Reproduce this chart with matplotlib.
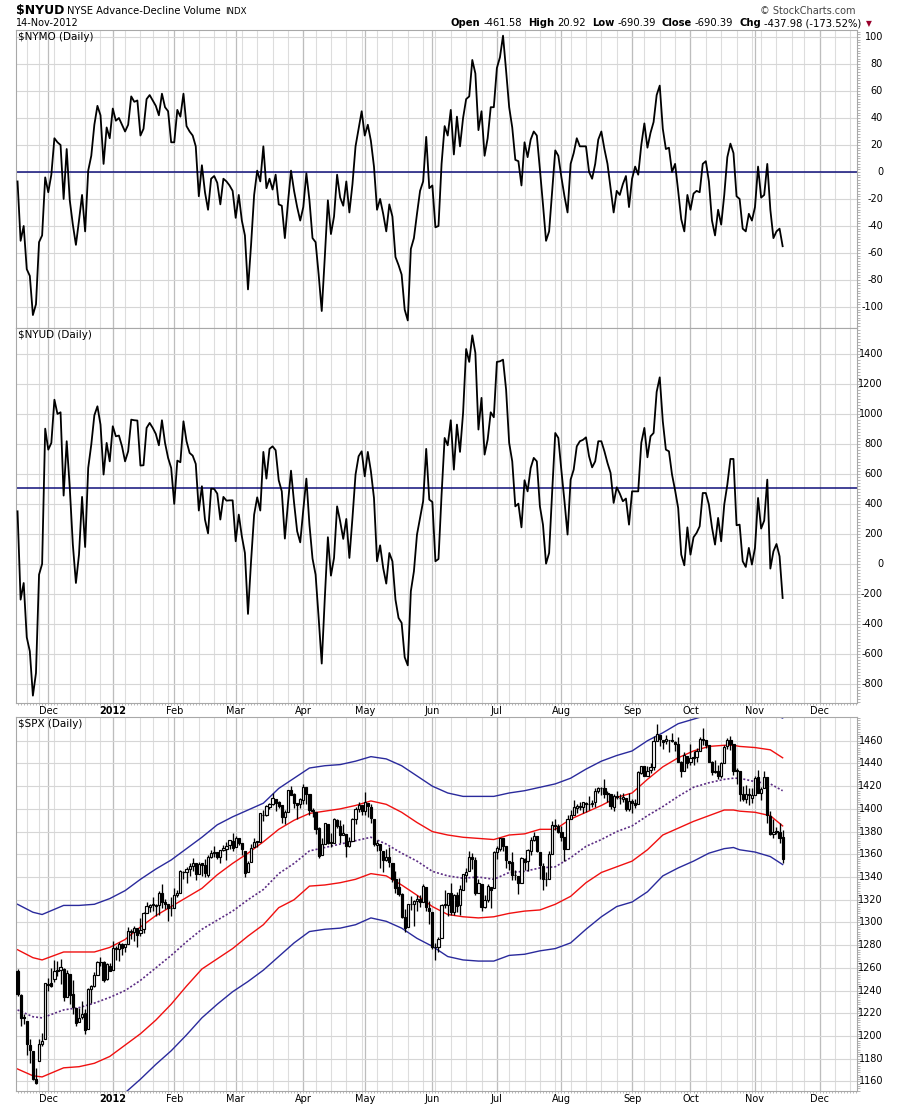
import numpy as np
import pandas as pd
import matplotlib
matplotlib.use("Agg")
import matplotlib.pyplot as plt
import matplotlib.transforms as mtransforms
from matplotlib.ticker import MultipleLocator

W, H = 900, 1108

# NYSE trading calendar of the chart (x axis is trading-day index)
holidays = ["2011-11-24", "2011-12-26", "2012-01-02", "2012-01-16", "2012-02-20",
            "2012-04-06", "2012-05-28", "2012-07-04", "2012-09-03", "2012-10-29",
            "2012-10-30", "2012-11-22", "2012-12-25"]
days = pd.bdate_range("2011-11-16", "2012-12-31", freq="C", holidays=holidays)

# $NYMO daily, 16-Nov-2011 .. 14-Nov-2012
nymo = [
    -7, -51, -40, -72, -77, -106, -98, -52, -47, -4,
    -15, -2, 25, 22, 20, -20, 17, -21, -39, -54,
    -36, -17, -44, 1, 12, 35, 49, 42, 6, 33,
    25, 47, 38, 40, 35, 30, 35, 56, 52, 53,
    27, 32, 54, 57, 53, 49, 42, 58, 48, 45,
    22, 22, 46, 41, 58, 34, 30, 27, 19, -18,
    5, -15, -28, -5, -3, -8, -24, -5, -7, -10,
    -14, -34, -17, -36, -47, -87, -54, -17, 1, -7,
    19, -12, -5, -13, -2, -24, -25, -49, -23, 1,
    -14, -26, -36, -26, -1, -21, -49, -52, -76, -103,
    -63, -21, -46, -33, -2, -19, -25, -7, -30, -9,
    19, 32, 45, 27, 35, 23, 4, -28, -20, -31,
    -44, -24, -33, -63, -69, -76, -102, -110, -57, -49,
    -31, -14, -7, 26, -12, -10, -41, -40, 6, 34,
    27, 46, 13, 41, 19, 40, 54, 56, 83, 73,
    31, 45, 12, 25, 48, 48, 77, 85, 101, 75,
    48, 33, 9, 8, -10, 22, 11, 24, 30, 27,
    2, -24, -51, -44, -14, 16, 12, -4, -18, -30,
    6, 14, 25, 19, 19, 19, 0, -5, 6, 24,
    30, 17, 6, -12, -30, -14, -17, -9, -3, -26,
    -5, 4, -2, 20, 36, 18, 29, 37, 57, 64,
    32, 17, 18, 0, 6, -14, -35, -44, -17, -28,
    -16, -14, -15, 6, 8, -7, -36, -47, -28, -39,
    -17, 11, 21, 14, -18, -20, -42, -44, -31, -36,
    -26, 4, -19, -17, 6, -28, -49, -44, -42, -55,
]

# $NYUD panel line
nyud = [
    351, -238, -127, -489, -582, -878, -727, -71, 0, 902,
    762, 807, 1095, 1000, 1011, 456, 818, 507, 129, -127,
    62, 447, 113, 640, 796, 991, 1051, 929, 596, 807,
    684, 918, 851, 856, 784, 684, 751, 962, 958, 956,
    656, 658, 907, 940, 907, 867, 791, 958, 807, 707,
    640, 400, 689, 678, 951, 818, 740, 722, 667, 356,
    518, 296, 204, 502, 500, 469, 296, 447, 422, 424,
    424, 151, 329, 184, 73, -333, 18, 329, 444, 356,
    747, 569, 767, 784, 758, 558, 484, 169, 402, 622,
    407, 218, 144, 362, 569, 262, 36, -71, -360, -664,
    -227, 178, -78, 40, 384, 284, 167, 300, 40, 307,
    596, 718, 751, 584, 747, 618, 440, 18, 124, -27,
    -131, 73, 18, -238, -360, -393, -622, -676, -182, -49,
    196, 307, 418, 767, 429, 413, 18, 33, 462, 840,
    791, 958, 629, 929, 747, 1007, 1433, 1347, 1524, 1407,
    896, 1107, 729, 829, 1011, 978, 1347, 1351, 1362, 1162,
    807, 684, 384, 402, 244, 558, 484, 640, 707, 684,
    384, 262, 2, 73, 484, 873, 840, 622, 418, 196,
    562, 629, 784, 818, 827, 844, 718, 644, 684, 818,
    818, 751, 673, 607, 407, 511, 469, 418, 436, 262,
    484, 484, 484, 807, 907, 711, 851, 873, 1147, 1244,
    951, 762, 751, 596, 491, 373, 62, -9, 244, 62,
    178, 207, 251, 473, 473, 396, 244, 129, 307, 151,
    396, 529, 700, 700, 258, 262, 18, -20, 107, -4,
    107, 440, 236, 289, 562, -31, 84, 133, 51, -227,
]
nyud_signal = 505

# $SPX daily candles
spx_open = [
    1257, 1236, 1217, 1213, 1192, 1187, 1162, 1178, 1193, 1197,
    1246, 1247, 1250, 1257, 1258, 1259, 1234, 1255, 1237, 1225, 1212, 1217, 1220, 1206, 1241, 1244, 1254, 1265, 1265, 1250, 1262,
    1258, 1277, 1277, 1281, 1278, 1281, 1292, 1292, 1295, 1291, 1294, 1308, 1314, 1315, 1315, 1315, 1326, 1318, 1316, 1313,
    1313, 1324, 1326, 1344, 1344, 1347, 1350, 1352, 1343, 1352, 1351, 1342, 1358, 1361, 1362, 1358, 1364, 1365, 1368, 1372,
    1366, 1374, 1370, 1363, 1344, 1353, 1366, 1371, 1371, 1395, 1395, 1402, 1404, 1409, 1406, 1403, 1393, 1397, 1417, 1413, 1405, 1404,
    1408, 1419, 1413, 1399, 1397, 1383, 1359, 1369, 1387, 1371, 1370, 1390, 1385, 1377, 1378, 1367, 1372, 1391, 1400, 1403,
    1398, 1405, 1402, 1391, 1368, 1369, 1363, 1355, 1358, 1352, 1338, 1331, 1325, 1305, 1296, 1316, 1316, 1319, 1321, 1318, 1331, 1313,
    1309, 1278, 1278, 1286, 1316, 1315, 1326, 1309, 1324, 1315, 1329, 1342, 1345, 1358, 1355, 1326, 1334, 1314, 1320, 1331, 1330,
    1362, 1365, 1374, 1367, 1354, 1353, 1342, 1341, 1335, 1356, 1354, 1363, 1373, 1376, 1362, 1350, 1338, 1338, 1360, 1386, 1385,
    1380, 1375, 1365, 1391, 1395, 1401, 1402, 1402, 1405, 1404, 1404, 1406, 1416, 1418, 1418, 1413, 1413, 1402, 1411, 1410, 1409, 1410, 1400,
    1407, 1405, 1404, 1432, 1438, 1429, 1434, 1437, 1460, 1465, 1461, 1460, 1461, 1461, 1459, 1457, 1441, 1433, 1447,
    1441, 1445, 1446, 1451, 1461, 1461, 1456, 1441, 1433, 1433, 1429, 1440, 1455, 1461, 1457, 1433, 1433, 1413, 1409, 1413, 1410,
    1412, 1428, 1414, 1418, 1428, 1394, 1378, 1380, 1380, 1375,
]
spx_high = [
    1259, 1237, 1219, 1213, 1197, 1187, 1172, 1197, 1203, 1247,
    1251, 1260, 1267, 1266, 1268, 1260, 1258, 1255, 1249, 1225, 1225, 1231, 1224, 1242, 1245, 1256, 1266, 1270, 1266, 1264, 1264,
    1284, 1279, 1283, 1282, 1281, 1296, 1294, 1297, 1295, 1304, 1309, 1318, 1316, 1322, 1316, 1328, 1334, 1321, 1316, 1322,
    1330, 1329, 1346, 1345, 1349, 1352, 1357, 1352, 1353, 1352, 1356, 1359, 1364, 1367, 1362, 1364, 1368, 1371, 1373, 1379,
    1376, 1374, 1370, 1363, 1354, 1369, 1374, 1372, 1396, 1399, 1403, 1405, 1414, 1409, 1407, 1403, 1399, 1417, 1420, 1414, 1405, 1410,
    1422, 1419, 1413, 1401, 1397, 1384, 1374, 1388, 1387, 1379, 1392, 1391, 1390, 1387, 1378, 1375, 1392, 1402, 1406, 1403,
    1415, 1405, 1404, 1391, 1373, 1369, 1363, 1365, 1366, 1352, 1345, 1339, 1326, 1312, 1316, 1323, 1320, 1324, 1324, 1334, 1331, 1319,
    1309, 1282, 1287, 1316, 1329, 1326, 1335, 1325, 1327, 1333, 1343, 1348, 1363, 1361, 1358, 1338, 1334, 1324, 1334, 1331, 1363,
    1367, 1374, 1374, 1367, 1354, 1362, 1346, 1341, 1358, 1357, 1365, 1375, 1380, 1376, 1362, 1352, 1344, 1363, 1389, 1391, 1387,
    1385, 1375, 1395, 1399, 1408, 1404, 1406, 1406, 1406, 1411, 1408, 1418, 1419, 1419, 1426, 1416, 1413, 1413, 1416, 1413, 1414, 1410, 1414,
    1409, 1409, 1433, 1438, 1438, 1438, 1440, 1464, 1475, 1465, 1461, 1465, 1461, 1467, 1460, 1463, 1442, 1450, 1447,
    1457, 1451, 1454, 1463, 1471, 1461, 1456, 1442, 1443, 1439, 1441, 1456, 1462, 1464, 1457, 1436, 1433, 1420, 1421, 1418, 1418,
    1429, 1434, 1419, 1433, 1428, 1398, 1391, 1384, 1388, 1381,
]
spx_low = [
    1235, 1209, 1211, 1183, 1176, 1161, 1158, 1178, 1191, 1197,
    1240, 1243, 1248, 1253, 1246, 1231, 1234, 1228, 1219, 1209, 1212, 1215, 1202, 1206, 1229, 1243, 1254, 1262, 1248, 1249, 1257,
    1258, 1267, 1266, 1271, 1274, 1281, 1285, 1284, 1278, 1288, 1291, 1308, 1309, 1310, 1306, 1307, 1313, 1312, 1301, 1306,
    1313, 1322, 1326, 1338, 1335, 1341, 1345, 1337, 1343, 1341, 1340, 1340, 1357, 1358, 1356, 1352, 1363, 1355, 1365, 1363,
    1366, 1368, 1359, 1340, 1344, 1353, 1366, 1366, 1371, 1389, 1394, 1400, 1403, 1398, 1401, 1388, 1387, 1397, 1412, 1401, 1391, 1401,
    1404, 1404, 1395, 1393, 1378, 1357, 1359, 1369, 1369, 1366, 1370, 1383, 1370, 1377, 1358, 1366, 1372, 1387, 1397, 1395,
    1395, 1393, 1388, 1367, 1363, 1348, 1344, 1354, 1349, 1336, 1326, 1323, 1304, 1292, 1296, 1311, 1297, 1310, 1314, 1318, 1310, 1299,
    1277, 1267, 1274, 1286, 1313, 1306, 1307, 1307, 1309, 1307, 1329, 1336, 1345, 1347, 1324, 1326, 1310, 1313, 1318, 1313, 1330,
    1356, 1363, 1363, 1348, 1346, 1337, 1337, 1325, 1335, 1346, 1345, 1359, 1372, 1362, 1338, 1329, 1332, 1338, 1360, 1381, 1379,
    1372, 1354, 1365, 1391, 1395, 1396, 1399, 1396, 1397, 1399, 1402, 1402, 1414, 1412, 1410, 1406, 1400, 1398, 1409, 1404, 1406, 1398, 1398,
    1396, 1401, 1404, 1431, 1429, 1429, 1432, 1434, 1460, 1455, 1453, 1457, 1450, 1459, 1451, 1441, 1428, 1433, 1436,
    1439, 1439, 1441, 1451, 1456, 1454, 1441, 1430, 1432, 1426, 1427, 1440, 1453, 1452, 1430, 1422, 1407, 1407, 1405, 1403, 1405,
    1412, 1414, 1408, 1418, 1388, 1377, 1374, 1378, 1370, 1352,
]
spx_close = [
    1236.9, 1216.1, 1215.7, 1193.0, 1188.0, 1161.8, 1158.7, 1192.6, 1195.2, 1247.0,
    1244.6, 1244.3, 1257.1, 1258.5, 1261.0, 1234.4, 1255.2, 1236.5, 1225.7, 1211.8, 1215.8,
    1219.7, 1205.4, 1241.3, 1243.7, 1254.0, 1265.3, 1265.4, 1249.6, 1263.0, 1257.6,
    1277.1, 1277.3, 1281.1, 1277.8, 1280.7, 1292.1, 1292.5, 1295.5, 1289.1, 1293.7,
    1308.0, 1314.5, 1315.4, 1316.0, 1314.7, 1326.1, 1318.4, 1316.3, 1313.0, 1312.4,
    1324.1, 1325.5, 1344.9, 1344.3, 1347.1, 1350.0, 1352.0, 1342.6, 1351.8, 1350.5,
    1343.2, 1358.0, 1361.2, 1362.2, 1357.7, 1363.5, 1365.7, 1367.6, 1372.2, 1365.7,
    1374.1, 1369.6, 1364.3, 1343.4, 1352.6, 1365.9, 1370.9, 1371.1, 1396.0, 1394.3, 1402.6,
    1404.2, 1409.8, 1405.5, 1402.9, 1392.8, 1397.1, 1416.5, 1412.5, 1405.5, 1403.3, 1408.5,
    1419.0, 1413.4, 1399.0, 1398.1, 1382.2, 1358.6, 1368.7, 1387.6, 1370.3, 1369.6,
    1390.8, 1385.1, 1376.9, 1378.5, 1366.9, 1372.0, 1390.7, 1400.0, 1403.4, 1397.9,
    1405.8, 1402.3, 1391.6, 1369.1, 1369.6, 1363.7, 1354.6, 1358.0, 1353.4, 1338.4, 1330.7,
    1324.8, 1304.9, 1295.2, 1316.0, 1316.6, 1318.9, 1320.7, 1317.8, 1332.4, 1313.3, 1310.3,
    1278.0, 1278.2, 1285.5, 1315.1, 1315.0, 1325.7, 1308.9, 1324.2, 1314.9, 1329.1, 1342.8,
    1344.8, 1358.0, 1355.7, 1325.5, 1335.0, 1313.7, 1320.0, 1331.9, 1329.0, 1362.2,
    1365.5, 1374.0, 1367.6, 1354.7, 1352.5, 1341.5, 1341.5, 1334.8, 1356.8, 1353.6, 1363.7,
    1372.8, 1376.5, 1362.7, 1350.5, 1338.3, 1337.9, 1360.0, 1386.0, 1385.3, 1379.3,
    1375.3, 1365.0, 1391.0, 1394.2, 1401.4, 1402.2, 1402.8, 1405.9, 1404.1, 1403.9, 1405.5, 1415.5,
    1418.2, 1418.1, 1413.2, 1413.5, 1402.1, 1411.1, 1410.4, 1409.3, 1410.5, 1399.5, 1406.6,
    1404.9, 1403.4, 1432.1, 1437.9, 1429.1, 1433.6, 1436.6, 1460.0, 1465.8, 1461.2,
    1459.3, 1461.1, 1460.3, 1460.2, 1456.9, 1441.6, 1433.3, 1447.2, 1440.7,
    1444.5, 1445.8, 1451.0, 1461.4, 1460.9, 1455.9, 1441.5, 1432.6, 1432.8, 1428.6, 1440.1,
    1454.9, 1460.9, 1457.3, 1433.2, 1433.8, 1413.1, 1408.8, 1413.0, 1411.9, 1412.2,
    1427.6, 1414.2, 1417.3, 1428.4, 1394.5, 1377.5, 1379.9, 1380.0, 1374.5, 1355.5,
]

# channel lines on $SPX, read at these trading-day indices
band_idx = [0, 5, 8, 15, 20, 25, 30, 35, 40, 45, 50, 55, 60, 65, 70, 75, 80, 85, 90, 95,
            100, 105, 110, 115, 120, 125, 130, 135, 140, 145, 150, 155, 160, 165, 170, 175,
            180, 185, 190, 195, 200, 205, 210, 215, 220, 225, 230, 233, 235, 240, 245, 249]
band_mid = [1223, 1217, 1216, 1223, 1225, 1229, 1234, 1240, 1249, 1260, 1271, 1283, 1294, 1302,
            1310, 1320, 1329, 1343, 1352, 1363, 1366, 1369, 1372, 1375, 1369, 1361, 1354, 1345,
            1341, 1339, 1340, 1338, 1344, 1345, 1348, 1349, 1357, 1367, 1373, 1380, 1385, 1394,
            1402, 1411, 1419, 1423, 1426, 1427, 1427, 1424, 1422, 1416]
band_up1 = [1276, 1269, 1267, 1274, 1274, 1274, 1278, 1285, 1296, 1306, 1314, 1322, 1330, 1342,
            1352, 1361, 1371, 1382, 1390, 1396, 1398, 1400, 1403, 1407, 1404, 1397, 1388, 1380,
            1377, 1375, 1374, 1373, 1377, 1378, 1382, 1382, 1391, 1397, 1403, 1410, 1414, 1426,
            1437, 1445, 1451, 1455, 1456, 1456, 1455, 1454, 1452, 1445]
band_dn1 = [1171, 1165, 1164, 1172, 1173, 1176, 1182, 1192, 1202, 1214, 1228, 1244, 1259, 1268,
            1277, 1288, 1298, 1313, 1320, 1332, 1333, 1335, 1338, 1343, 1341, 1333, 1324, 1314,
            1307, 1305, 1304, 1305, 1308, 1310, 1311, 1316, 1323, 1335, 1344, 1349, 1354, 1364,
            1377, 1383, 1389, 1394, 1399, 1399, 1398, 1397, 1394, 1385]
band_up2 = [1316, 1309, 1307, 1315, 1315, 1316, 1321, 1328, 1338, 1347, 1355, 1365, 1375, 1386,
            1393, 1399, 1405, 1418, 1427, 1436, 1438, 1439, 1442, 1446, 1444, 1438, 1429, 1420,
            1414, 1411, 1411, 1411, 1414, 1416, 1419, 1422, 1427, 1435, 1442, 1447, 1451, 1460,
            1467, 1475, 1479, 1483, 1486, 1487, 1487, 1486, 1484, 1480]
band_dn2 = [np.nan, np.nan, np.nan, np.nan, np.nan, np.nan, np.nan, 1150, 1162, 1175, 1187, 1201,
            1216, 1228, 1239, 1248, 1258, 1270, 1282, 1292, 1294, 1295, 1298, 1304, 1301, 1295,
            1286, 1279, 1270, 1267, 1266, 1266, 1271, 1272, 1275, 1277, 1282, 1294, 1305, 1314,
            1318, 1327, 1341, 1348, 1354, 1361, 1365, 1366, 1364, 1362, 1358, 1351]

nymo_ticks = list(range(-100, 101, 20))
nyud_ticks = list(range(-800, 1401, 200))
spx_ticks = list(range(1160, 1461, 20))

x = np.arange(len(nymo))
month_pos = [i for i in range(1, len(days)) if days[i].month != days[i - 1].month]
month_lbl = [str(days[i].year) if days[i].month == 1 else days[i].strftime("%b") for i in month_pos]
week_pos = [i for i in range(1, len(days)) if days[i].weekday() < days[i - 1].weekday()]

fig = plt.figure(figsize=(W / 100, H / 100), dpi=100)
fig.patch.set_facecolor("white")


def px_axes(top, bottom):
    return fig.add_axes([16 / W, 1 - bottom / H, 841 / W, (bottom - top) / H])


def setup(ax, ylim, ticks, minor, name):
    ax.set_xlim(-0.5, 273.2)
    ax.set_ylim(*ylim)
    for p in week_pos:
        ax.axvline(p, color="#dddddd", lw=0.8, zorder=0)
    for p in month_pos:
        ax.axvline(p, color="#bdbdbd", lw=0.9, zorder=0)
    for t in ticks:
        ax.axhline(t, color="#d6d6d6", lw=0.8, zorder=0)
    trans = mtransforms.blended_transform_factory(ax.transAxes, ax.transData)
    for t in ticks:
        ax.text(1 + 26 / 841, t, str(t), transform=trans, ha="right", va="center",
                fontsize=7, clip_on=False)
    ax.set_yticks([])
    ax.yaxis.tick_right()
    ax.yaxis.set_minor_locator(MultipleLocator(minor))
    ax.tick_params(axis="y", which="minor", length=2, color="#a8a8a8", width=0.6)
    ax.set_xticks([])
    for s in ax.spines.values():
        s.set_color("#a8a8a8")
        s.set_linewidth(0.8)
    ax.text(2 / 841, 1 - 2 / (ax.bbox.height), name, transform=ax.transAxes, ha="left", va="top",
            fontsize=7.5, zorder=6)


def month_labels(ax, offset_px):
    trans = mtransforms.blended_transform_factory(ax.transData, ax.transAxes)
    h = ax.bbox.height
    for p, lab in zip(month_pos, month_lbl):
        ax.text(p, -offset_px / h, lab, transform=trans, ha="center", va="center", fontsize=7,
                fontweight="bold" if lab.isdigit() else "normal", clip_on=False)
    ax.set_xticks(np.arange(0, 274), minor=True)
    ax.tick_params(axis="x", which="minor", length=1.5, color="#b0b0b0", width=0.6)
    ax.spines["bottom"].set_linestyle((0, (1, 1)))


# panel 1: $NYMO
ax1 = px_axes(30, 328)
setup(ax1, (-115.6, 105.2), nymo_ticks, 2, "$NYMO (Daily)")
ax1.axhline(0, color="#10107a", lw=1.1, zorder=2)
ax1.plot(x, nymo, color="black", lw=1.3, zorder=3)

# panel 2: $NYUD
ax2 = px_axes(328, 703)
setup(ax2, (-927, 1573), nyud_ticks, 20, "$NYUD (Daily)")
ax2.axhline(nyud_signal, color="#10107a", lw=1.1, zorder=2)
ax2.plot(x, nyud, color="black", lw=1.3, zorder=3)
month_labels(ax2, 7.5)

# panel 3: $SPX candles with channels
ax3 = px_axes(717, 1091)
setup(ax3, (1151.6, 1480.9), spx_ticks, 2, "$SPX (Daily)")
ax3.plot(band_idx, band_up2, color="#2a2a9c", lw=1.0, zorder=2)
ax3.plot(band_idx, band_dn2, color="#2a2a9c", lw=1.0, zorder=2)
ax3.plot(band_idx, band_up1, color="#f01010", lw=1.0, zorder=2)
ax3.plot(band_idx, band_dn1, color="#f01010", lw=1.0, zorder=2)
ax3.plot(band_idx, band_mid, color="#5b2c83", lw=1.2, ls=(0, (1.2, 1.2)), zorder=2)

o = np.array(spx_open, dtype=float)
c = np.array(spx_close, dtype=float)
hi = np.array(spx_high, dtype=float)
lo = np.array(spx_low, dtype=float)
ax3.vlines(x, lo, hi, color="black", lw=0.95, zorder=3)
body_h = np.maximum(np.abs(c - o), 0.6)
face = np.where(c >= o, "white", "black")
ax3.bar(x, body_h, bottom=np.minimum(o, c), width=0.72, color=face, edgecolor="black",
        linewidth=0.85, zorder=4)
month_labels(ax3, 8.3)

# header
fig.canvas.draw()
renderer = fig.canvas.get_renderer()


def ftext(xp, yp, s, **kw):
    return fig.text(xp / W, 1 - yp / H, s, va="center", **kw)


t = ftext(16, 10.5, "$NYUD", fontsize=9, fontweight="bold")
xx = t.get_window_extent(renderer).x1 + 3
t = ftext(xx, 10.5, "NYSE Advance-Decline Volume", fontsize=7.2)
xx = t.get_window_extent(renderer).x1 + 4
ftext(xx, 11, "INDX", fontsize=6.2)
ftext(16, 23.5, "14-Nov-2012", fontsize=7)
ftext(856, 10.5, "\u00a9 StockCharts.com", fontsize=7, color="#444444", ha="right")

parts = [("Open", True), ("-461.58", False), ("High", True), ("20.92", False),
         ("Low", True), ("-690.39", False), ("Close", True), ("-690.39", False),
         ("Chg", True), ("-437.98 (-173.52%)", False)]
xx = 451
for s, bold in parts:
    t = ftext(xx, 23.5, s, fontsize=7.2, fontweight="bold" if bold else "normal")
    xx = t.get_window_extent(renderer).x1 + (3 if bold else 6)
ftext(xx - 2, 23.5, "\u25bc", fontsize=5.5, color="#99002b")

fig.savefig("out.png", dpi=100, facecolor="white")
